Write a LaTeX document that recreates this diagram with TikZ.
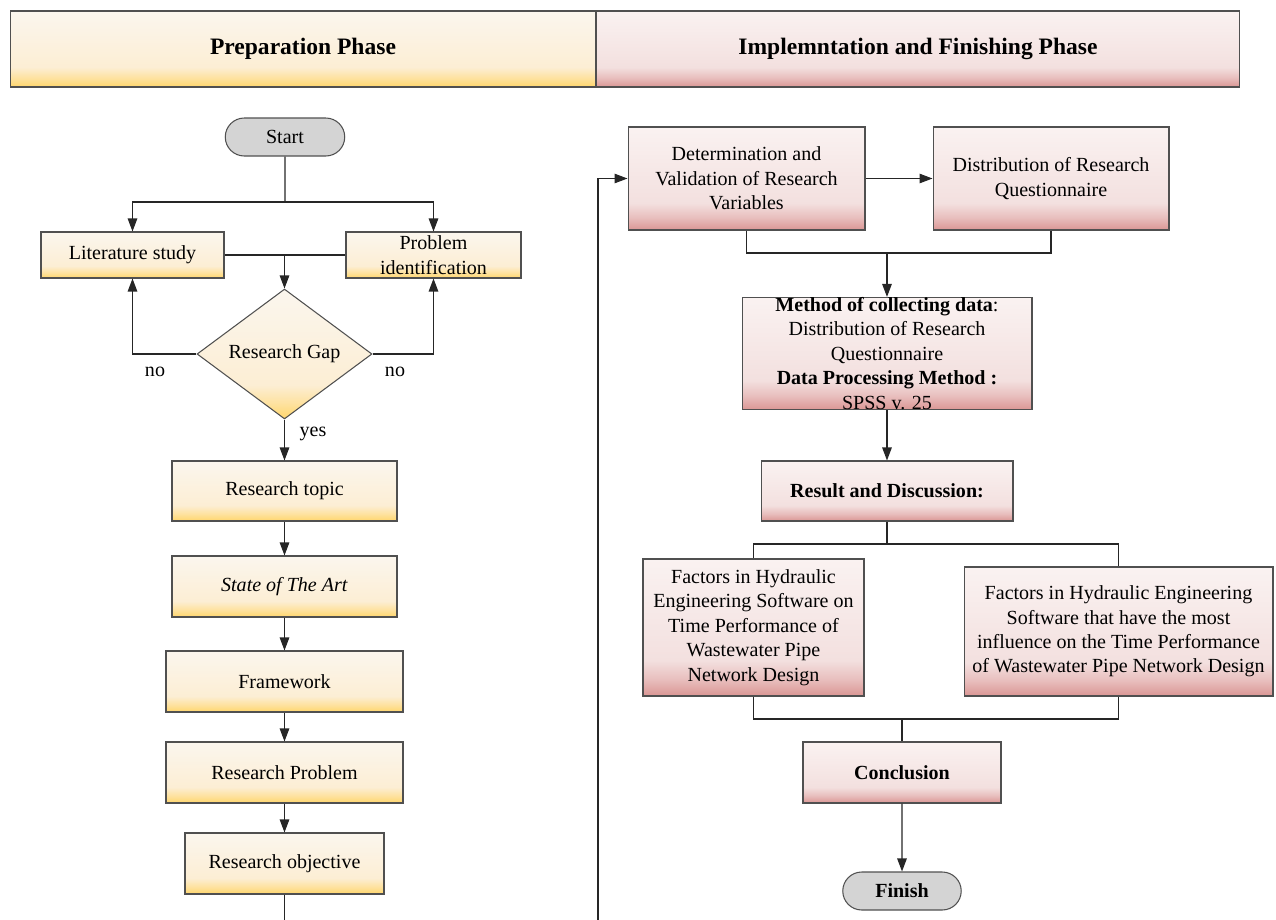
\documentclass[tikz,border=0pt]{standalone}
\usepackage{fontspec}
\setmainfont{Liberation Serif}
\usetikzlibrary{shapes.geometric,shapes.misc,arrows.meta}
\definecolor{yelT}{RGB}{251,246,238}
\definecolor{yelM}{RGB}{252,238,212}
\definecolor{yelL}{RGB}{254,226,160}
\definecolor{yelB}{RGB}{255,214,108}
\definecolor{pnkT}{RGB}{250,242,241}
\definecolor{pnkM}{RGB}{243,224,223}
\definecolor{pnkL}{RGB}{232,190,189}
\definecolor{pnkB}{RGB}{218,150,148}
\definecolor{edge}{RGB}{80,80,80}
\pgfdeclareverticalshading{yelfade}{100bp}{color(0bp)=(yelB); color(25bp)=(yelB); color(31bp)=(yelL); color(38bp)=(yelM); color(75bp)=(yelT); color(100bp)=(yelT)}
\pgfdeclareverticalshading{pnkfade}{100bp}{color(0bp)=(pnkB); color(25bp)=(pnkB); color(31bp)=(pnkL); color(38bp)=(pnkM); color(75bp)=(pnkT); color(100bp)=(pnkT)}
\tikzset{
  box/.style={rectangle,draw=edge,line width=0.6pt,inner sep=1pt,align=center},
  ybox/.style={box,shade,shading=yelfade},
  pbox/.style={box,shade,shading=pnkfade},
  hdr/.style={font=\fontsize{13.4}{16}\selectfont\bfseries},
  term/.style={rounded rectangle,draw=edge,line width=0.6pt,fill=black!17,inner sep=1pt},
  line/.style={draw=black!85,line width=0.7pt},
  arr/.style={line,-{Triangle[length=2.6mm,width=1.9mm]}}
}
\begin{document}
\begin{tikzpicture}[x=0.02cm,y=-0.02cm,font=\fontsize{11.4}{13.9}\selectfont]
\useasboundingbox (0,0) rectangle (1276,920);
% phase headers
\node[ybox,hdr,minimum width=11.72cm,minimum height=1.52cm] (prep) at (303,49) {Preparation Phase};
\node[pbox,hdr,minimum width=12.88cm,minimum height=1.52cm] (impl) at (918,49) {Implemntation and Finishing Phase};
% preparation
\node[term,minimum width=2.46cm,minimum height=0.76cm] (start) at (285,137) {Start};
\node[ybox,minimum width=3.66cm,minimum height=0.92cm] (lit) at (132.5,255) {Literature study};
\node[ybox,minimum width=3.5cm,minimum height=0.92cm,inner sep=0pt] (prob) at (433.5,255) {Problem\\identification};
\node[diamond,draw=edge,line width=0.6pt,shade,shading=yelfade,minimum width=3.5cm,minimum height=2.6cm,inner sep=0pt] (gap) at (284.5,354) {Research Gap};
\node (nol) at (155,372) {no};
\node (nor) at (395,372) {no};
\node (yes) at (313,434) {yes};
\node[ybox,minimum width=4.5cm,minimum height=1.2cm] (topic) at (284.5,491) {Research topic};
\node[ybox,minimum width=4.5cm,minimum height=1.22cm] (soa) at (284.5,586.5) {\textit{State of The Art}};
\node[ybox,minimum width=4.74cm,minimum height=1.22cm] (fw) at (284.5,681.5) {Framework};
\node[ybox,minimum width=4.74cm,minimum height=1.22cm] (rp) at (284.5,772.5) {Research Problem};
\node[ybox,minimum width=3.98cm,minimum height=1.22cm] (ro) at (284.5,863.5) {Research objective};
% implementation
\node[pbox,minimum width=4.74cm,minimum height=2.06cm] (det) at (746.5,178.5) {Determination and\\Validation of Research\\Variables};
\node[pbox,minimum width=4.72cm,minimum height=2.06cm] (dist) at (1051,178.5) {Distribution of Research\\Questionnaire};
\node[pbox,minimum width=5.8cm,minimum height=2.22cm,inner sep=0pt] (meth) at (887,353.5) {\textbf{Method of collecting data}:\\Distribution of Research\\Questionnaire\\\textbf{Data Processing Method :}\\SPSS v. 25};
\node[pbox,minimum width=5.04cm,minimum height=1.2cm] (res) at (887,491) {\textbf{Result and Discussion:}};
\node[pbox,minimum width=4.42cm,minimum height=2.74cm] (fac1) at (753.5,627.5) {Factors in Hydraulic\\Engineering Software on\\Time Performance of\\Wastewater Pipe\\Network Design};
\node[pbox,minimum width=6.18cm,minimum height=2.58cm] (fac2) at (1118.5,631.5) {Factors in Hydraulic Engineering\\Software that have the most\\influence on the Time Performance\\of Wastewater Pipe Network Design};
\node[pbox,minimum width=3.96cm,minimum height=1.22cm] (conc) at (902,772.5) {\textbf{Conclusion}};
\node[term,minimum width=2.44cm,minimum height=0.76cm] (fin) at (902,891) {\textbf{Finish}};
% junctions
\coordinate (j1) at (285,202);
\coordinate (j2) at (887,253);
\coordinate (j3) at (887,544);
\coordinate (j4) at (902,719);
\coordinate (bl) at (284.5,920);
\coordinate (br) at (598,920);
% connectors
\draw[line] (start) -- (j1);
\draw[arr] (j1) -| (lit);
\draw[arr] (j1) -| (prob);
\draw[line] (lit) -- (prob);
\draw[arr] (gap.north |- lit) -- (gap);
\draw[arr] (gap) -| (lit);
\draw[arr] (gap) -| (prob);
\draw[arr] (gap) -- (topic);
\foreach \a/\b in {topic/soa,soa/fw,fw/rp,rp/ro}
\draw[arr] (\a) -- (\b);
\draw[line] (ro) -- (bl);
\draw[arr] (br) |- (det);
\draw[arr] (det) -- (dist);
\draw[line] (det) |- (j2);
\draw[line] (dist) |- (j2);
\draw[arr] (j2) -- (meth);
\draw[arr] (meth) -- (res);
\draw[line] (res) -- (j3);
\draw[line] (j3) -| (fac1);
\draw[line] (j3) -| (fac2);
\draw[line] (fac1) |- (j4);
\draw[line] (fac2) |- (j4);
\draw[line] (j4) -- (conc);
\draw[arr] (conc) -- (fin);
\end{tikzpicture}
\end{document}
